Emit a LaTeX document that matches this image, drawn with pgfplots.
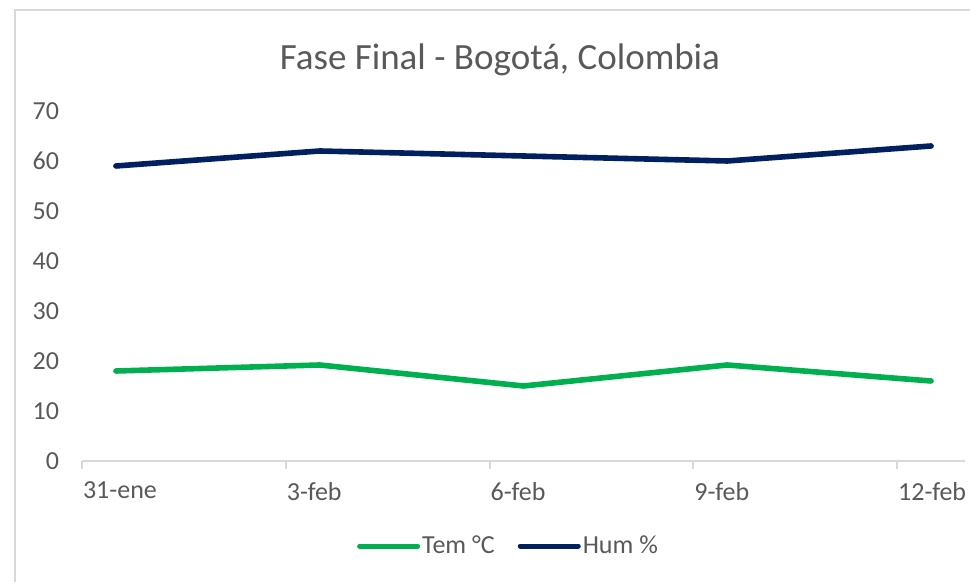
\documentclass[border=0pt]{standalone}
\usepackage{pgfplots}
\pgfplotsset{compat=1.18}
\usepackage{fontspec}
\setmainfont{Carlito}
\definecolor{txt}{HTML}{595959}
\definecolor{grn}{HTML}{00B050}
\definecolor{nav}{HTML}{002060}
\definecolor{brd}{HTML}{D9D9D9}
\begin{document}
\begin{tikzpicture}
\begin{axis}[
  at={(41pt,60.5pt)}, anchor=south west,
  scale only axis, width=441.5pt, height=175pt,
  xmin=0, xmax=13, ymin=0, ymax=70,
  xtick={0,3,6,9,12},
  xticklabels={31-ene,3-feb,6-feb,9-feb,12-feb},
  ytick={0,10,...,70},
  axis lines=left,
  axis line style={-},
  x axis line style={brd, line width=1pt},
  y axis line style={draw=none},
  tick align=outside,
  major tick length=4pt,
  xtick style={brd, line width=1pt},
  ytick style={draw=none},
  /pgf/number format/assume math mode=true,
  ticklabel style={font=\fontsize{13}{15}\selectfont, text=txt},
  yticklabel style={xshift=-4pt},
  xticklabel style={anchor=north west, xshift=-3pt, yshift=-3pt},
  legend columns=2,
  legend style={draw=none, fill=none, at={(0.483,-0.243)}, anchor=center,
    font=\fontsize{13}{15}\selectfont, text=txt,
    nodes={inner xsep=1pt},
    /tikz/every even column/.append style={column sep=10.5pt}},
  legend image code/.code={\draw[#1, line width=2.5pt, line cap=round] (0pt,0pt) -- (29pt,0pt);},
  clip=false,
]
\addplot[grn, line width=2.8pt, line cap=round, line join=round] coordinates {
  (0.5,18) (3.5,19.2) (6.5,15) (9.5,19.2) (12.5,16)};
\addlegendentry{Tem °C}
\addplot[nav, line width=2.8pt, line cap=round, line join=round] coordinates {
  (0.5,59) (3.5,62) (6.5,61) (9.5,60) (12.5,63)};
\addlegendentry{Hum \%}
\end{axis}
\node[text=txt, font=\fontsize{18.5}{22}\selectfont] at (250pt,261pt) {Fase Final - Bogotá, Colombia};
\draw[brd, line width=1pt] (7.5pt,-5pt) -- (7.5pt,286pt) -- (495pt,286pt);
\pgfresetboundingbox
\path (0,0) rectangle (485pt,291pt);
\end{tikzpicture}
\end{document}
